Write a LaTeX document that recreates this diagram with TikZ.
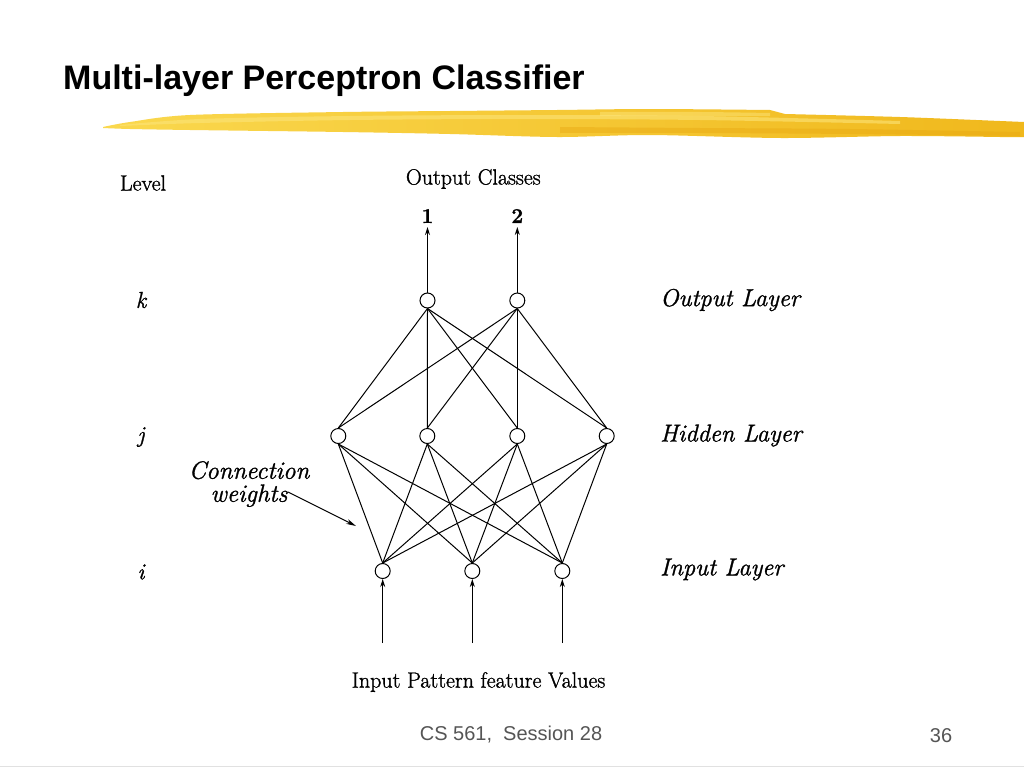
\documentclass[tikz,border=0pt]{standalone}
\usepackage{fontspec}
\newfontfamily\arialfont{Liberation Sans}
\newfontfamily\scanrm{Latin Modern Roman}[FakeBold=1.2]
\usetikzlibrary{arrows.meta}
\definecolor{footgray}{RGB}{85,85,85}
\definecolor{hlleft}{RGB}{250,216,78}
\definecolor{hlright}{RGB}{240,184,28}
\definecolor{hllight}{RGB}{252,228,120}
\definecolor{hldark}{RGB}{232,168,18}
\definecolor{rulegray}{RGB}{225,225,225}
\begin{document}
\begin{tikzpicture}[x=1pt,y=-1pt,
  neuron/.style={circle,draw,line width=1pt,minimum size=15pt,inner sep=0pt,fill=white},
  wire/.style={line width=1pt},
  arr/.style={line width=1pt,-{Stealth[length=8pt,width=5pt]}},
  romlab/.style={inner sep=0pt,font=\scanrm\fontsize{22}{24}\selectfont},
  itlab/.style={inner sep=0pt,anchor=west,font=\scanrm\fontsize{24.5}{26}\selectfont\itshape},
  lvl/.style={inner sep=0pt,font=\scanrm\fontsize{23}{24}\selectfont\itshape}]
\useasboundingbox[fill=white] (0,0) rectangle (1024,768);
% highlighter stroke
\shade[left color=hlleft,right color=hlright] plot[smooth] coordinates {(103,127) (130,122) (190,115) (343,112) (450,111) (557,110) (650,109) (770,110)} -- plot[smooth] coordinates {(785,114) (900,117) (1000,121) (1024,122)}
  -- (1024,137) -- plot[smooth] coordinates {(1000,137) (900,136) (781,138) (650,135) (557,137) (450,134) (343,132) (190,130) (130,129) (103,128)} -- cycle;
\fill[hllight,opacity=0.6] plot[smooth] coordinates {(120,125) (200,119) (350,116) (520,115) (700,116) (900,121)}
  -- plot[smooth] coordinates {(900,124) (700,120) (520,119) (350,120) (200,123) (120,126)} -- cycle;
\fill[hldark,opacity=0.45] plot[smooth] coordinates {(560,127) (700,128) (850,129) (1020,132)}
  -- plot[smooth] coordinates {(1020,136) (850,134) (700,133) (560,133)} -- cycle;
\fill[hllight,opacity=0.5] plot[smooth] coordinates {(600,112) (700,112) (770,113)} -- (770,116) -- (600,116) -- cycle;
% title
\node[anchor=base west,inner sep=0pt,font=\arialfont\bfseries\fontsize{34}{40}\selectfont] (title) at (63,89.5) {Multi-layer Perceptron Classifier};
% footer
\node[anchor=base,inner sep=0pt,text=footgray,font=\arialfont\fontsize{20}{24}\selectfont] (foot) at (511,740) {CS 561,\ \ Session 28};
\node[anchor=base,inner sep=0pt,text=footgray,font=\arialfont\fontsize{20}{24}\selectfont] (page) at (941,742) {36};
\draw[rulegray,line width=1pt] (0,766) -- (1024,766);
% neurons
\node[neuron] (o1) at (427.5,300.5) {};
\node[neuron] (o2) at (517.3,300.5) {};
\node[neuron] (h1) at (338.3,436) {};
\node[neuron] (h2) at (427.3,436) {};
\node[neuron] (h3) at (517.3,436) {};
\node[neuron] (h4) at (606.7,436) {};
\node[neuron] (i1) at (382.7,571) {};
\node[neuron] (i2) at (472.3,571) {};
\node[neuron] (i3) at (562.3,571) {};
\foreach \a in {o1,o2} \foreach \b in {h1,h2,h3,h4} \draw[wire] (\a.south) -- (\b.north);
\foreach \a in {h1,h2,h3,h4} \foreach \b in {i1,i2,i3} \draw[wire] (\a.south) -- (\b.north);
% output arrows
\node[romlab,font=\scanrm\fontsize{21}{22}\selectfont\bfseries] (c1) at (427.5,216) {1};
\node[romlab,font=\scanrm\fontsize{21}{22}\selectfont\bfseries] (c2) at (517.3,216) {2};
\coordinate (t1) at (427.5,227);
\coordinate (t2) at (517.3,227);
\draw[arr] (o1.north) -- (t1);
\draw[arr] (o2.north) -- (t2);
% input arrows
\coordinate (b1) at (382.7,643);
\coordinate (b2) at (472.3,643);
\coordinate (b3) at (562.3,643);
\draw[arr] (b1) -- (i1.south);
\draw[arr] (b2) -- (i2.south);
\draw[arr] (b3) -- (i3.south);
% texts
\node[romlab] (oc) at (473.3,179) {Output Classes};
\node[romlab] (ip) at (478.5,682) {Input Pattern feature Values};
\node[romlab] (lev) at (143,183) {Level};
\node[lvl] (lk) at (141,300) {k};
\node[lvl] (lj) at (141,437) {j};
\node[lvl] (li) at (141,572) {i};
\node[itlab] (lo) at (660,300) {Output Layer};
\node[itlab] (lh) at (660,435.5) {Hidden Layer};
\node[itlab] (lin) at (660,569.5) {Input Layer};
\node[inner sep=0pt,align=center,font=\scanrm\fontsize{25}{23}\selectfont\itshape] (cw) at (249,484) {Connection\\weights};
\coordinate (cws) at (288,492);
\coordinate (cwe) at (356,526);
\draw[line width=1pt,-{Stealth[length=10pt,width=5pt]}] (cws) -- (cwe);
\end{tikzpicture}
\end{document}
